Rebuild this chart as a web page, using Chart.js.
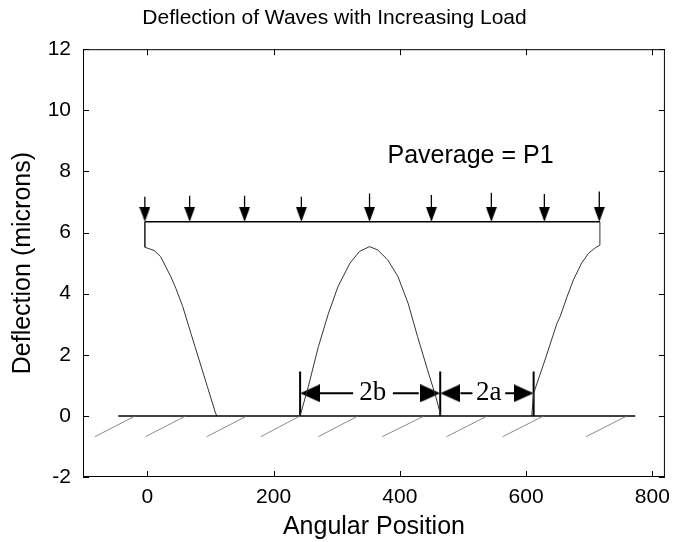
<!DOCTYPE html>
<html>
<head>
<meta charset="utf-8">
<script src="https://cdn.jsdelivr.net/npm/chart.js@4.4.1/dist/chart.umd.min.js"></script>
<style>
  html, body { margin: 0; padding: 0; background: #fff; }
  #wrap { width: 678px; height: 542px; }
</style>
</head>
<body>
<div id="wrap"><canvas id="c"></canvas></div>
<script>
// --- data (angular position, deflection in microns) ---
const leftX  = [-4, -4, 11, 21, 37, 45, 56, 69, 82, 95, 108, 110];
const leftY  = [6.35, 5.52, 5.41, 5.21, 4.56, 4.18, 3.58, 2.7, 1.83, 0.96, 0.09, 0];

const humpX  = [242, 255, 271, 287, 302, 321, 336, 352, 365, 381, 397, 413, 428, 444, 457, 465];
const humpY  = [0, 0.96, 2.27, 3.36, 4.23, 5.0, 5.38, 5.54, 5.43, 5.1, 4.56, 3.69, 2.6, 1.5, 0.63, 0];

const rightX = [609, 612, 630, 649, 654, 665, 675, 688, 699, 709, 717, 717];
const rightY = [0, 0.74, 1.83, 3.03, 3.25, 3.9, 4.45, 5.0, 5.32, 5.49, 5.59, 6.35];

const loadX    = [-4, 717];        // ends of the load bar
const loadY    = 6.35;
const arrowX   = [-4, 67, 154, 244, 352, 450, 545, 629, 716];
const arrowTop = [7.17, 7.2, 7.2, 7.17, 7.28, 7.23, 7.3, 7.26, 7.34];

const groundX  = [-46, 773];
const hatchX0  = [-83, -3, 94, 180, 271, 372, 474, 563, 695];
const hatchX1  = [-19, 61, 158, 242, 334, 439, 539, 628, 760];
const hatchY0  = -0.68;

const dimX       = [242, 464, 612];   // dimension marks
const dimTop     = 1.45;
const dimY       = 0.74;
const shaftX0    = [273, 389, 496, 567];
const shaftX1    = [326, 430, 515, 581];
const headLeftX  = [242, 464];
const headRightX = [464, 612];
const dimLabels  = ['2b', '2a'];
const dimLabelX  = [357, 541];

const noteText = 'Paverage = P1';
const noteX = 512, noteY = 8.5;

const xTicksStep = 200, yTicksStep = 2;

// --- helpers ---
const pts = (xs, ys) => xs.map((x, i) => ({ x, y: ys[i] }));
function segs(x0, y0, x1, y1) {
  const out = [];
  x0.forEach((_, i) => {
    out.push({ x: x0[i], y: y0[i] }, { x: x1[i], y: y1[i] }, { x: x1[i], y: null });
  });
  return out;
}
const fill = (n, v) => Array(n).fill(v);

// downward triangle; tip sits at canvas centre
function headCanvas(w, h) {
  const c = document.createElement('canvas');
  c.width = w; c.height = h * 2;
  const g = c.getContext('2d');
  g.fillStyle = '#000';
  g.beginPath(); g.moveTo(0, 0); g.lineTo(w, 0); g.lineTo(w / 2, h); g.closePath(); g.fill();
  return c;
}
const loadHead = headCanvas(11, 15);
const dimHead  = headCanvas(18, 20);

const line = (data, color, width) => ({
  data, showLine: true, borderColor: color, borderWidth: width,
  pointRadius: 0, spanGaps: false, tension: 0,
});
const heads = (data, img, rot) => ({
  data, showLine: false, pointStyle: img, pointRadius: 3, pointRotation: rot,
});

// frame, inside ticks and text notes
const frame = {
  id: 'frame',
  afterDraw(chart) {
    const { ctx, chartArea: a, scales: { x, y } } = chart;
    ctx.save();
    ctx.strokeStyle = '#000';
    ctx.lineWidth = 1;
    ctx.strokeRect(a.left + 0.5, a.top + 0.5, a.width - 1, a.height - 1);
    ctx.beginPath();
    x.ticks.forEach(t => {
      const p = Math.round(x.getPixelForValue(t.value)) + 0.5;
      ctx.moveTo(p, a.bottom); ctx.lineTo(p, a.bottom - 6);
      ctx.moveTo(p, a.top);    ctx.lineTo(p, a.top + 6);
    });
    y.ticks.forEach(t => {
      const p = Math.round(y.getPixelForValue(t.value)) + 0.5;
      ctx.moveTo(a.left, p);  ctx.lineTo(a.left + 6, p);
      ctx.moveTo(a.right, p); ctx.lineTo(a.right - 6, p);
    });
    ctx.stroke();

    ctx.fillStyle = '#000';
    ctx.textAlign = 'center';
    ctx.textBaseline = 'middle';
    ctx.font = '27px "Liberation Serif", serif';
    dimLabels.forEach((s, i) => ctx.fillText(s, x.getPixelForValue(dimLabelX[i]), y.getPixelForValue(dimY)));
    ctx.font = '25px "Liberation Sans", Arial, sans-serif';
    ctx.fillText(noteText, x.getPixelForValue(noteX), y.getPixelForValue(noteY));
    ctx.restore();
  }
};

const font = fam => ({ family: '"Liberation Sans", Arial, sans-serif', size: fam });

new Chart(document.getElementById('c'), {
  type: 'scatter',
  data: {
    datasets: [
      line(segs(hatchX0, fill(hatchX0.length, hatchY0), hatchX1, fill(hatchX1.length, 0)), '#6e6e6e', 0.8),
      line(pts(groundX, [0, 0]), '#000', 1.5),
      line(pts(leftX, leftY), '#333', 1),
      line(pts(humpX, humpY), '#333', 1),
      line(pts(rightX, rightY), '#333', 1),
      line(pts(loadX, [loadY, loadY]), '#000', 1.5),
      line(segs(arrowX, arrowTop, arrowX, fill(arrowX.length, loadY + 0.3)), '#000', 1.3),
      heads(pts(arrowX, fill(arrowX.length, loadY)), loadHead, 0),
      line(segs(dimX, fill(dimX.length, 0), dimX, fill(dimX.length, dimTop)), '#000', 2),
      line(segs(shaftX0, fill(shaftX0.length, dimY), shaftX1, fill(shaftX1.length, dimY)), '#000', 2),
      heads(pts(headLeftX, fill(headLeftX.length, dimY)), dimHead, 90),
      heads(pts(headRightX, fill(headRightX.length, dimY)), dimHead, -90),
    ]
  },
  options: {
    responsive: true,
    maintainAspectRatio: false,
    animation: false,
    layout: { padding: { left: 0, right: 9, top: 0, bottom: 0 } },
    plugins: {
      legend: { display: false },
      tooltip: { enabled: false },
      title: {
        display: true,
        text: 'Deflection of Waves with Increasing Load',
        color: '#000',
        font: { ...font(21), weight: 'normal' },
        padding: { top: 6, bottom: 18 },
      },
    },
    scales: {
      x: {
        type: 'linear', min: -102, max: 820,
        grid: { display: false, drawTicks: false },
        border: { display: false },
        ticks: { stepSize: xTicksStep, includeBounds: false, color: '#000', font: font(21), padding: 8 },
        title: { display: true, text: 'Angular Position', color: '#000', font: font(25), padding: { top: 0, bottom: 0 } },
        afterFit: s => { s.height = 65; },
      },
      y: {
        type: 'linear', min: -2, max: 12,
        grid: { display: false, drawTicks: false },
        border: { display: false },
        ticks: { stepSize: yTicksStep, color: '#000', font: font(21), padding: 12 },
        title: { display: true, text: 'Deflection (microns)', color: '#000', font: font(25), padding: { top: 8, bottom: 0 } },
        afterFit: s => { s.width = 83; },
      },
    },
  },
  plugins: [frame],
});
</script>
</body>
</html>
